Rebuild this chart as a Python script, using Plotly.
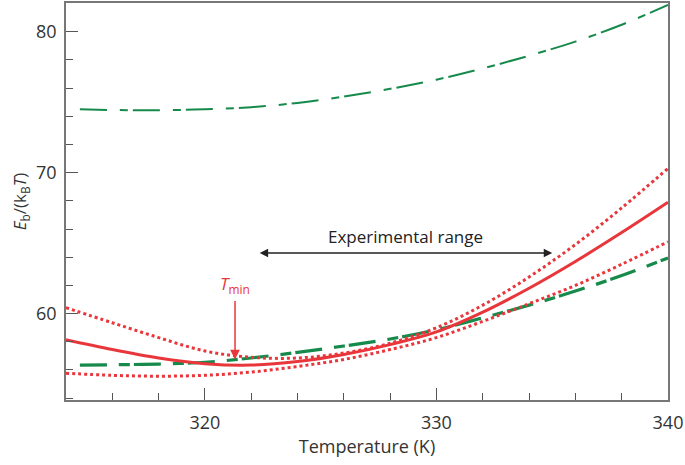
import plotly.graph_objects as go

# Temperature grid (K)
T_grid = [314, 316, 318, 320, 322, 324, 326, 328, 330, 332, 334, 336, 338, 340]
T_green = [314.6, 316, 318, 320, 322, 324, 326, 328, 330, 332, 334, 336, 338, 340]

# Series values Eb/(kB T)
green_top = [74.5, 74.45, 74.43, 74.5, 74.65, 74.95, 75.4, 75.95, 76.6, 77.4, 78.3, 79.3, 80.5, 81.9]
green_low = [56.35, 56.37, 56.42, 56.55, 56.85, 57.25, 57.7, 58.2, 58.85, 59.7, 60.6, 61.6, 62.7, 63.95]
red_solid = [58.15, 57.45, 56.85, 56.45, 56.35, 56.6, 57.1, 57.8, 58.7, 60.1, 61.8, 63.7, 65.75, 67.9]
red_dot_upper = [60.42, 59.35, 58.3, 57.35, 56.9, 56.85, 57.2, 57.9, 59.0, 60.6, 62.6, 64.9, 67.5, 70.3]
red_dot_lower = [55.77, 55.62, 55.56, 55.62, 55.85, 56.25, 56.75, 57.45, 58.3, 59.45, 60.7, 62.0, 63.5, 65.1]

x_range = [314, 340]
y_range = [53.87, 82.04]
x_ticks = [320, 330, 340]
y_ticks = [60, 70, 80]

exp_range = [322.3, 335.0]
exp_level = 64.3
tmin_T = 321.3
tmin_tip = 56.75
tmin_tail = 61.0

RED = "#e8363b"
GREEN = "#168a4b"
FONT = "Open Sans"

fig = go.Figure()
fig.add_trace(go.Scatter(x=T_green, y=green_top, mode="lines", line_shape="spline",
                         line=dict(color=GREEN, width=2, dash="27px,13px,8px,5px")))
fig.add_trace(go.Scatter(x=T_green, y=green_low, mode="lines", line_shape="spline",
                         line=dict(color=GREEN, width=3.2, dash="27px,12px,11px,4px")))
fig.add_trace(go.Scatter(x=T_grid, y=red_dot_lower, mode="lines", line_shape="spline",
                         line=dict(color=RED, width=3, dash="dot")))
fig.add_trace(go.Scatter(x=T_grid, y=red_dot_upper, mode="lines", line_shape="spline",
                         line=dict(color=RED, width=3, dash="dot")))
fig.add_trace(go.Scatter(x=T_grid, y=red_solid, mode="lines", line_shape="spline",
                         line=dict(color=RED, width=3)))

# Experimental range double arrow
fig.add_annotation(x=exp_range[1], y=exp_level, ax=exp_range[0], ay=exp_level,
                   xref="x", yref="y", axref="x", ayref="y", text="",
                   showarrow=True, arrowhead=2, arrowside="end+start",
                   arrowsize=1.3, arrowwidth=1.3, arrowcolor="#222")
fig.add_annotation(x=(exp_range[0] + exp_range[1]) / 2, y=exp_level + 1.2, xref="x", yref="y",
                   text="Experimental range", showarrow=False,
                   font=dict(family=FONT, size=17, color="#222"))
# T_min arrow
fig.add_annotation(x=tmin_T, y=tmin_tip, ax=tmin_T, ay=tmin_tail,
                   xref="x", yref="y", axref="x", ayref="y", text="",
                   showarrow=True, arrowhead=2, arrowsize=1.3, arrowwidth=1.5,
                   arrowcolor=RED)
fig.add_annotation(x=tmin_T, y=62.1, xref="x", yref="y",
                   text="<i>T</i><sub>min</sub>", showarrow=False,
                   font=dict(family=FONT, size=17, color=RED))

axis_common = dict(showline=True, linecolor="#777", linewidth=1.5, mirror=True,
                   ticks="inside", ticklen=12, tickwidth=1.3, tickcolor="#555",
                   showgrid=False, zeroline=False,
                   tickfont=dict(family=FONT, size=18, color="#333"))

fig.update_xaxes(range=x_range, tickvals=x_ticks,
                 minor=dict(ticks="inside", dtick=2, tick0=314, ticklen=7, tickcolor="#555", tickwidth=1.2),
                 title=dict(text="Temperature (K)", font=dict(family=FONT, size=18, color="#333"), standoff=6),
                 ticklabelstandoff=6, **axis_common)
fig.update_yaxes(range=y_range, tickvals=y_ticks,
                 minor=dict(ticks="inside", dtick=2, tick0=54, ticklen=7, tickcolor="#555", tickwidth=1.2),
                 title=dict(text="<i>E</i><sub>b</sub>/(k<sub>B</sub><i>T</i>)",
                            font=dict(family=FONT, size=17, color="#333"), standoff=5),
                 ticklabelstandoff=4, **axis_common)

fig.update_layout(width=685, height=465, showlegend=False,
                  margin=dict(l=66, r=17, t=1, b=65),
                  paper_bgcolor="white", plot_bgcolor="white")

fig.write_html("out.html", config={"displayModeBar": False},
               post_script="document.body.style.margin='0px';")
